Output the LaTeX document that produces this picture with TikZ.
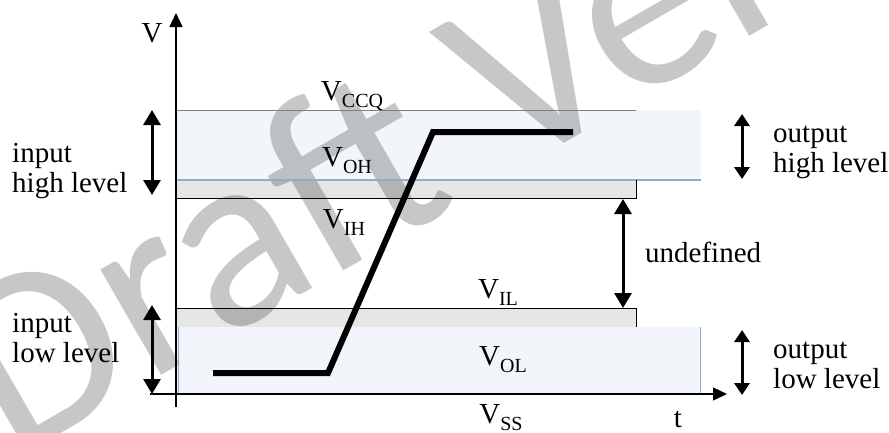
\documentclass[tikz,border=0pt]{standalone}
\usepackage{fontspec}
\setmainfont{Liberation Serif}
\newfontfamily\markfont{Carlito}
\usepackage{xcolor}
\usetikzlibrary{arrows.meta}

\definecolor{bandblue}{HTML}{F2F6FA}
\definecolor{edgeblue}{HTML}{94ACC8}
\definecolor{bandgray}{HTML}{E6E6E6}

\newcommand{\volt}[1]{V\raisebox{-7pt}{\fontsize{20}{20}\selectfont #1}}

\tikzset{
  lbl/.style={inner sep=0pt, font=\fontsize{29}{30}\selectfont},
  levelarrow/.style={line width=3pt, {Triangle[width=17pt,length=15pt]}-{Triangle[width=17pt,length=15pt]}},
  axisline/.style={line width=1.3pt, -{Triangle[width=13pt,length=14pt]}},
}

\begin{document}
\begin{tikzpicture}[x=1pt,y=-1pt]
    \useasboundingbox (0,0) rectangle (889,432);

    % bands
    \fill[bandblue] (176,110) rectangle (701,180);
    \fill[bandgray] (176,180) rectangle (636,198);
    \fill[bandgray] (176,308) rectangle (636,327);
    \fill[bandblue] (176,327) rectangle (700,394);

    % watermark
    \node[anchor=base west, inner sep=0pt, rotate=30, text=black, text opacity=0.22,
          font=\markfont\fontsize{255}{255}\selectfont] (mark) at (12,462) {Draft Version};

    % band edges
    \draw[gray, line width=0.8pt] (176,110) -- (636,110);
    \draw[edgeblue, line width=1.5pt] (176,180) -- (701,180);
    \draw[line width=1pt] (176,198) -- (636,198) -- (636,180);
    \draw[line width=1pt] (176,308) -- (636,308) -- (636,327);
    \draw[edgeblue, line width=1pt] (178,327) -- (178,394);
    \draw[edgeblue, line width=1pt] (700,327) -- (700,394);

    % axes
    \coordinate (origin) at (176,407);
    \coordinate (ytop) at (176,13);
    \coordinate (xleft) at (150,394);
    \coordinate (xright) at (727,394);
    \draw[axisline] (origin) -- (ytop);
    \draw[axisline] (xleft) -- (xright);

    % signal
    \draw[line width=6pt] (213,373) -- (328,373) -- (433,132) -- (573,132);

    % level arrows
    \coordinate (ihtop) at (152,110);
    \coordinate (ihbot) at (152,195);
    \coordinate (iltop) at (152,305);
    \coordinate (ilbot) at (152,394);
    \coordinate (udtop) at (623,199);
    \coordinate (udbot) at (623,308);
    \coordinate (ohtop) at (742,114);
    \coordinate (ohbot) at (742,179);
    \coordinate (oltop) at (742,330);
    \coordinate (olbot) at (742,395);
    \draw[levelarrow] (ihtop) -- (ihbot);
    \draw[levelarrow] (iltop) -- (ilbot);
    \draw[levelarrow] (udtop) -- (udbot);
    \draw[levelarrow, {Triangle[width=15pt,length=12pt]}-{Triangle[width=15pt,length=12pt]}] (ohtop) -- (ohbot);
    \draw[levelarrow, {Triangle[width=15pt,length=12pt]}-{Triangle[width=15pt,length=12pt]}] (oltop) -- (olbot);

    % labels
    \node[lbl, anchor=base] (vlabel) at (152,42) {V};
    \node[lbl, anchor=base] (tlabel) at (678,427) {t};
    \node[lbl, anchor=base] (vccq) at (352,100) {\volt{CCQ}};
    \node[lbl, anchor=base] (voh) at (347,166) {\volt{OH}};
    \node[lbl, anchor=base] (vih) at (344,228) {\volt{IH}};
    \node[lbl, anchor=base] (vil) at (498,298) {\volt{IL}};
    \node[lbl, anchor=base] (vol) at (503,365) {\volt{OL}};
    \node[lbl, anchor=base] (vss) at (501,423) {\volt{SS}};
    \node[lbl, anchor=base west] (undef) at (645,262) {undefined};
    \node[lbl, anchor=base west, align=left] (inhigh) at (12,192) {input\\high level};
    \node[lbl, anchor=base west, align=left] (inlow) at (12,362) {input\\low level};
    \node[lbl, anchor=base west, align=left] (outhigh) at (773,172) {output\\high level};
    \node[lbl, anchor=base west, align=left] (outlow) at (773,388) {output\\low level};
\end{tikzpicture}
\end{document}
